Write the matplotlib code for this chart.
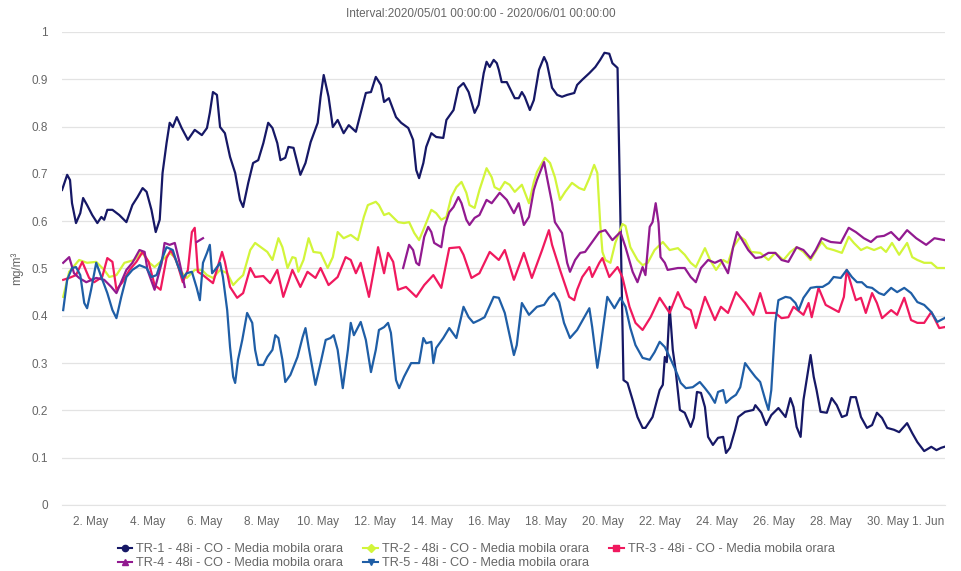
import numpy as np
import pandas as pd
import matplotlib
matplotlib.use("Agg")
import matplotlib.pyplot as plt
from matplotlib.lines import Line2D

plt.rcParams["font.family"] = ["Liberation Sans", "DejaVu Sans"]

START = pd.Timestamp("2020-05-01 00:00")
END = pd.Timestamp("2020-06-01 00:00")

# days since 1 May 00:00 / hourly moving average CO (mg/m3)
tr1_days = [0.00, 0.18, 0.28, 0.35, 0.49, 0.64, 0.74, 0.88, 1.06, 1.24, 1.38, 1.48, 1.59, 1.77,
            2.01, 2.26, 2.47, 2.65, 2.83, 2.97, 3.14, 3.29, 3.43, 3.53, 3.67, 3.78, 3.89, 4.03,
            4.20, 4.42, 4.66, 4.91, 5.09, 5.19, 5.30, 5.44, 5.55, 5.72, 5.90, 6.08, 6.25, 6.36,
            6.54, 6.71, 6.89, 7.07, 7.24, 7.39, 7.56, 7.67, 7.84, 7.95, 8.13, 8.37, 8.55, 8.73,
            8.98, 9.08, 9.19, 9.36, 9.51, 9.68, 9.89, 10.07, 10.14, 10.32, 10.49, 10.67, 10.85,
            11.02, 11.20, 11.31, 11.48, 11.73, 11.91, 12.16, 12.33, 12.44, 12.54, 12.69, 12.79,
            12.97, 13.14, 13.39, 13.50, 13.75, 13.92, 14.10, 14.28, 14.49, 14.63, 14.81, 14.91,
            15.02, 15.16, 15.27, 15.34, 15.44, 15.62, 15.72, 15.90, 16.04, 16.15, 16.25, 16.43,
            16.57, 16.75, 16.93, 17.03, 17.21, 17.39, 17.56, 17.74, 17.99, 18.09, 18.27, 18.52,
            18.73, 18.90, 19.05, 19.22, 19.33, 19.51, 19.72, 19.86, 20.04, 20.21, 20.39, 20.49,
            20.74, 20.99, 21.10, 21.17, 21.24, 21.34, 21.45, 21.55, 21.70, 21.87, 22.08, 22.19,
            22.30, 22.44, 22.58, 22.69, 22.86, 23.04, 23.22, 23.32, 23.46, 23.64, 23.75, 23.99,
            24.28, 24.35, 24.56, 24.73, 24.91, 25.16, 25.41, 25.58, 25.69, 25.80, 25.94, 26.04,
            26.15, 26.29, 26.40, 26.50, 26.64, 26.86, 27.03, 27.21, 27.39, 27.56, 27.70, 27.88,
            28.06, 28.27, 28.45, 28.62, 28.80, 28.98, 29.22, 29.40, 29.68, 29.86, 30.04, 30.28,
            30.53, 30.71, 30.88, 30.99]
tr1_vals = [0.666, 0.698, 0.687, 0.638, 0.596, 0.617, 0.649, 0.634, 0.613, 0.596, 0.609, 0.603,
            0.624, 0.624, 0.613, 0.598, 0.634, 0.651, 0.670, 0.662, 0.624, 0.577, 0.603, 0.702,
            0.765, 0.808, 0.799, 0.820, 0.797, 0.772, 0.793, 0.782, 0.797, 0.829, 0.873, 0.867,
            0.799, 0.786, 0.736, 0.702, 0.645, 0.630, 0.681, 0.723, 0.729, 0.765, 0.808, 0.797,
            0.765, 0.729, 0.734, 0.757, 0.755, 0.698, 0.723, 0.767, 0.808, 0.863, 0.909, 0.863,
            0.799, 0.814, 0.786, 0.803, 0.799, 0.789, 0.829, 0.871, 0.873, 0.905, 0.888, 0.852,
            0.860, 0.820, 0.808, 0.797, 0.772, 0.708, 0.691, 0.723, 0.757, 0.786, 0.778, 0.776,
            0.814, 0.835, 0.882, 0.892, 0.873, 0.829, 0.846, 0.913, 0.937, 0.926, 0.941, 0.934,
            0.920, 0.894, 0.894, 0.882, 0.860, 0.860, 0.873, 0.863, 0.835, 0.856, 0.920, 0.947,
            0.934, 0.882, 0.867, 0.863, 0.867, 0.871, 0.888, 0.899, 0.913, 0.926, 0.941, 0.956,
            0.954, 0.934, 0.924, 0.264, 0.258, 0.222, 0.186, 0.163, 0.163, 0.186, 0.243, 0.254,
            0.313, 0.302, 0.419, 0.328, 0.285, 0.201, 0.195, 0.165, 0.184, 0.239, 0.237, 0.207,
            0.144, 0.127, 0.142, 0.144, 0.110, 0.121, 0.159, 0.186, 0.197, 0.201, 0.211, 0.195,
            0.169, 0.190, 0.205, 0.186, 0.226, 0.207, 0.165, 0.144, 0.222, 0.264, 0.317, 0.271,
            0.243, 0.197, 0.195, 0.226, 0.211, 0.186, 0.190, 0.228, 0.228, 0.186, 0.163, 0.169,
            0.195, 0.184, 0.163, 0.159, 0.154, 0.173, 0.152, 0.133, 0.114, 0.123, 0.116, 0.121,
            0.123]

tr2_days = [0.04, 0.25, 0.60, 0.88, 1.20, 1.48, 1.66, 1.91, 2.19, 2.54, 2.79, 3.07, 3.25, 3.53,
            3.78, 3.96, 4.13, 4.38, 4.66, 4.91, 5.09, 5.30, 5.55, 5.80, 6.01, 6.18, 6.36, 6.61,
            6.78, 7.03, 7.21, 7.39, 7.60, 7.74, 7.92, 8.09, 8.20, 8.30, 8.48, 8.66, 8.83, 9.08,
            9.33, 9.51, 9.68, 9.89, 10.14, 10.39, 10.60, 10.74, 11.02, 11.13, 11.31, 11.48, 11.80,
            12.01, 12.19, 12.37, 12.54, 12.72, 12.97, 13.14, 13.32, 13.50, 13.67, 13.85, 14.03,
            14.20, 14.31, 14.49, 14.66, 14.91, 15.09, 15.19, 15.37, 15.55, 15.72, 15.90, 16.15,
            16.40, 16.57, 16.68, 16.96, 17.14, 17.31, 17.49, 17.67, 17.91, 18.16, 18.34, 18.52,
            18.69, 18.80, 18.90, 18.98, 19.08, 19.26, 19.43, 19.68, 19.79, 19.96, 20.21, 20.39,
            20.57, 20.81, 21.10, 21.34, 21.63, 21.87, 22.08, 22.26, 22.58, 22.76, 22.97, 23.22,
            23.39, 23.57, 23.82, 23.99, 24.20, 24.52, 24.81, 25.05, 25.34, 25.58, 25.80, 26.04,
            26.29, 26.50, 26.68, 26.86, 27.10, 27.39, 27.63, 27.81, 28.06, 28.27, 28.52, 28.76,
            28.94, 29.15, 29.40, 29.68, 29.86, 30.04, 30.28, 30.53, 30.74, 30.99]
tr2_vals = [0.440, 0.493, 0.518, 0.512, 0.514, 0.497, 0.482, 0.486, 0.512, 0.518, 0.535, 0.512,
            0.503, 0.518, 0.533, 0.524, 0.497, 0.480, 0.497, 0.497, 0.486, 0.480, 0.497, 0.490,
            0.465, 0.476, 0.486, 0.539, 0.554, 0.543, 0.535, 0.518, 0.564, 0.545, 0.501, 0.524,
            0.522, 0.493, 0.518, 0.564, 0.535, 0.533, 0.501, 0.524, 0.577, 0.564, 0.571, 0.560,
            0.609, 0.634, 0.641, 0.634, 0.613, 0.617, 0.598, 0.596, 0.598, 0.575, 0.560, 0.586,
            0.624, 0.617, 0.603, 0.609, 0.651, 0.672, 0.683, 0.660, 0.634, 0.628, 0.666, 0.712,
            0.693, 0.672, 0.666, 0.683, 0.677, 0.662, 0.677, 0.638, 0.683, 0.704, 0.734, 0.723,
            0.693, 0.645, 0.662, 0.681, 0.670, 0.666, 0.691, 0.719, 0.702, 0.596, 0.535, 0.518,
            0.512, 0.554, 0.594, 0.590, 0.545, 0.518, 0.507, 0.512, 0.539, 0.556, 0.539, 0.543,
            0.529, 0.512, 0.503, 0.543, 0.518, 0.497, 0.518, 0.512, 0.545, 0.567, 0.560, 0.535,
            0.533, 0.518, 0.533, 0.518, 0.535, 0.545, 0.535, 0.518, 0.539, 0.556, 0.543, 0.539,
            0.533, 0.567, 0.554, 0.539, 0.545, 0.539, 0.545, 0.535, 0.554, 0.529, 0.554, 0.524,
            0.518, 0.512, 0.512, 0.501, 0.501]

tr3_days = [0.04, 0.25, 0.49, 0.71, 0.95, 1.13, 1.41, 1.59, 1.77, 1.91, 2.12, 2.37, 2.61, 2.83,
            3.04, 3.25, 3.46, 3.67, 3.82, 4.03, 4.24, 4.42, 4.56, 4.66, 4.77, 4.95, 5.30, 5.62,
            5.72, 5.90, 6.15, 6.36, 6.61, 6.78, 7.07, 7.31, 7.56, 7.77, 8.09, 8.37, 8.62, 8.90,
            9.08, 9.36, 9.68, 9.96, 10.14, 10.32, 10.49, 10.78, 11.10, 11.31, 11.45, 11.63, 11.80,
            12.08, 12.44, 12.72, 13.04, 13.32, 13.60, 13.96, 14.10, 14.38, 14.66, 15.02, 15.34,
            15.55, 15.87, 16.22, 16.50, 16.86, 17.10, 17.21, 17.49, 17.81, 17.99, 18.09, 18.27,
            18.52, 18.62, 18.87, 18.98, 19.22, 19.51, 19.68, 19.93, 20.14, 20.39, 20.67, 20.99,
            21.34, 21.63, 21.87, 22.08, 22.26, 22.58, 22.93, 23.14, 23.39, 23.67, 23.99, 24.28,
            24.52, 24.73, 25.05, 25.27, 25.51, 25.69, 26.04, 26.22, 26.33, 26.57, 26.82, 27.28,
            27.46, 27.56, 27.70, 27.88, 28.06, 28.23, 28.45, 28.62, 28.80, 29.12, 29.33, 29.58,
            29.82, 30.04, 30.28, 30.53, 30.81, 30.99]
tr3_vals = [0.476, 0.480, 0.486, 0.514, 0.480, 0.471, 0.482, 0.522, 0.514, 0.455, 0.471, 0.497,
            0.514, 0.535, 0.514, 0.465, 0.455, 0.522, 0.539, 0.514, 0.471, 0.497, 0.577, 0.586,
            0.493, 0.486, 0.469, 0.535, 0.514, 0.461, 0.438, 0.448, 0.501, 0.482, 0.484, 0.469,
            0.497, 0.440, 0.497, 0.461, 0.493, 0.480, 0.501, 0.465, 0.482, 0.524, 0.518, 0.490,
            0.512, 0.440, 0.545, 0.490, 0.533, 0.514, 0.455, 0.461, 0.440, 0.465, 0.486, 0.459,
            0.543, 0.545, 0.529, 0.480, 0.490, 0.535, 0.518, 0.539, 0.476, 0.533, 0.480, 0.539,
            0.581, 0.550, 0.497, 0.440, 0.433, 0.455, 0.482, 0.503, 0.482, 0.512, 0.522, 0.482,
            0.503, 0.482, 0.419, 0.385, 0.370, 0.397, 0.438, 0.406, 0.450, 0.419, 0.412, 0.374,
            0.440, 0.391, 0.419, 0.406, 0.450, 0.427, 0.402, 0.448, 0.406, 0.406, 0.395, 0.397,
            0.419, 0.402, 0.427, 0.397, 0.459, 0.423, 0.408, 0.440, 0.497, 0.469, 0.433, 0.438,
            0.406, 0.448, 0.427, 0.395, 0.412, 0.402, 0.438, 0.391, 0.385, 0.385, 0.408, 0.374,
            0.376]

# TR-4 has missing data (gaps) around 4-5 May and 5-12 May
tr4_days = [0.04, 0.25, 0.42, 0.60, 0.85, 1.20, 1.48, 1.73, 1.91, 2.26, 2.47, 2.72, 2.90, 3.00,
            3.25, 3.50, 3.60, 3.78, 3.96, 4.13, 4.31, 4.50, 4.73, 4.95, 5.00, 11.98, 12.19, 12.33,
            12.44, 12.54, 12.72, 12.86, 12.97, 13.07, 13.32, 13.43, 13.60, 13.75, 13.92, 14.03,
            14.20, 14.31, 14.49, 14.66, 14.91, 15.09, 15.37, 15.62, 15.87, 16.04, 16.22, 16.40,
            16.57, 16.68, 16.93, 17.03, 17.21, 17.31, 17.56, 17.74, 17.84, 18.02, 18.20, 18.37,
            18.62, 18.87, 19.08, 19.33, 19.61, 19.79, 20.04, 20.21, 20.39, 20.49, 20.64, 20.74,
            20.85, 20.95, 21.02, 21.17, 21.27, 21.63, 21.87, 22.08, 22.26, 22.44, 22.69, 22.93,
            23.14, 23.39, 23.57, 23.71, 23.85, 24.10, 24.35, 24.56, 24.81, 25.05, 25.27, 25.51,
            25.80, 26.04, 26.29, 26.47, 26.68, 27.00, 27.35, 27.63, 27.88, 28.16, 28.41, 28.62,
            28.87, 29.12, 29.40, 29.68, 30.00, 30.35, 30.64, 30.99]
tr4_vals = [0.512, 0.524, 0.490, 0.480, 0.471, 0.480, 0.476, 0.461, 0.448, 0.497, 0.512, 0.539,
            0.535, 0.497, 0.455, 0.512, 0.554, 0.550, 0.554, 0.512, 0.461, np.nan, 0.556, 0.564,
            np.nan, 0.501, 0.550, 0.539, 0.512, 0.507, 0.567, 0.588, 0.577, 0.554, 0.545, 0.588,
            0.619, 0.630, 0.651, 0.638, 0.603, 0.592, 0.607, 0.613, 0.645, 0.638, 0.660, 0.645,
            0.617, 0.638, 0.592, 0.609, 0.666, 0.687, 0.725, 0.693, 0.638, 0.598, 0.575, 0.512,
            0.493, 0.518, 0.533, 0.535, 0.556, 0.577, 0.581, 0.560, 0.577, 0.545, 0.493, 0.471,
            0.503, 0.486, 0.588, 0.598, 0.638, 0.596, 0.524, 0.512, 0.497, 0.501, 0.501, 0.482,
            0.471, 0.501, 0.518, 0.512, 0.518, 0.490, 0.545, 0.577, 0.564, 0.539, 0.522, 0.524,
            0.533, 0.533, 0.518, 0.514, 0.545, 0.539, 0.522, 0.539, 0.564, 0.556, 0.554, 0.586,
            0.577, 0.564, 0.556, 0.567, 0.569, 0.577, 0.560, 0.581, 0.564, 0.550, 0.564, 0.560]

tr5_days = [0.04, 0.18, 0.35, 0.49, 0.64, 0.78, 0.88, 1.02, 1.20, 1.38, 1.59, 1.77, 1.91, 2.08,
            2.26, 2.47, 2.72, 2.97, 3.14, 3.32, 3.50, 3.67, 3.89, 4.03, 4.24, 4.38, 4.56, 4.73,
            4.84, 4.95, 5.09, 5.19, 5.27, 5.37, 5.55, 5.65, 5.80, 5.90, 6.01, 6.08, 6.18, 6.33,
            6.50, 6.68, 6.78, 6.89, 7.07, 7.21, 7.39, 7.49, 7.60, 7.74, 7.84, 8.02, 8.27, 8.45,
            8.55, 8.66, 8.90, 9.08, 9.26, 9.43, 9.54, 9.68, 9.86, 10.04, 10.14, 10.25, 10.49,
            10.67, 10.85, 11.02, 11.13, 11.31, 11.45, 11.55, 11.73, 11.84, 12.01, 12.26, 12.54,
            12.69, 12.79, 12.97, 13.04, 13.14, 13.39, 13.60, 13.85, 14.10, 14.28, 14.45, 14.66,
            14.84, 15.16, 15.34, 15.55, 15.72, 15.87, 15.97, 16.15, 16.40, 16.68, 16.93, 17.10,
            17.28, 17.46, 17.63, 17.84, 18.09, 18.34, 18.52, 18.62, 18.80, 18.90, 19.15, 19.40,
            19.61, 19.79, 19.96, 20.14, 20.39, 20.64, 20.81, 20.99, 21.17, 21.34, 21.55, 21.73,
            21.91, 22.15, 22.40, 22.58, 22.76, 22.93, 23.04, 23.22, 23.32, 23.50, 23.67, 23.82,
            23.99, 24.17, 24.35, 24.52, 24.70, 24.81, 24.91, 25.05, 25.16, 25.41, 25.58, 25.76,
            25.87, 26.04, 26.29, 26.50, 26.71, 26.93, 27.10, 27.35, 27.56, 27.74, 27.92, 28.09,
            28.27, 28.45, 28.69, 28.87, 29.12, 29.33, 29.58, 29.82, 30.04, 30.28, 30.53, 30.74,
            30.99]
tr5_vals = [0.412, 0.476, 0.501, 0.503, 0.486, 0.427, 0.416, 0.455, 0.512, 0.482, 0.448, 0.412,
            0.395, 0.440, 0.482, 0.497, 0.507, 0.501, 0.482, 0.486, 0.518, 0.545, 0.539, 0.512,
            0.480, 0.490, 0.493, 0.459, 0.433, 0.512, 0.533, 0.550, 0.490, 0.497, 0.512, 0.482,
            0.412, 0.334, 0.271, 0.258, 0.307, 0.349, 0.406, 0.385, 0.328, 0.296, 0.296, 0.313,
            0.328, 0.359, 0.353, 0.307, 0.260, 0.275, 0.313, 0.355, 0.374, 0.334, 0.254, 0.300,
            0.349, 0.353, 0.359, 0.328, 0.247, 0.328, 0.385, 0.359, 0.387, 0.349, 0.281, 0.328,
            0.370, 0.376, 0.385, 0.364, 0.264, 0.247, 0.271, 0.300, 0.300, 0.353, 0.342, 0.345,
            0.300, 0.332, 0.353, 0.374, 0.353, 0.419, 0.397, 0.385, 0.391, 0.397, 0.440, 0.438,
            0.406, 0.359, 0.317, 0.338, 0.427, 0.402, 0.419, 0.423, 0.438, 0.448, 0.429, 0.385,
            0.353, 0.370, 0.397, 0.416, 0.376, 0.290, 0.328, 0.440, 0.416, 0.438, 0.419, 0.374,
            0.338, 0.311, 0.307, 0.323, 0.345, 0.334, 0.313, 0.285, 0.258, 0.247, 0.249, 0.260,
            0.247, 0.233, 0.216, 0.239, 0.243, 0.216, 0.226, 0.233, 0.249, 0.300, 0.285, 0.271,
            0.260, 0.222, 0.201, 0.243, 0.385, 0.433, 0.440, 0.438, 0.427, 0.412, 0.438, 0.459,
            0.461, 0.461, 0.469, 0.482, 0.480, 0.497, 0.482, 0.471, 0.471, 0.461, 0.459, 0.448,
            0.444, 0.459, 0.450, 0.459, 0.448, 0.429, 0.423, 0.408, 0.387, 0.395]

series_names = ["TR-1 - 48i - CO - Media mobila orara",
                "TR-2 - 48i - CO - Media mobila orara",
                "TR-3 - 48i - CO - Media mobila orara",
                "TR-4 - 48i - CO - Media mobila orara",
                "TR-5 - 48i - CO - Media mobila orara"]
series_days = [tr1_days, tr2_days, tr3_days, tr4_days, tr5_days]
series_vals = [tr1_vals, tr2_vals, tr3_vals, tr4_vals, tr5_vals]
colors = ["#161866", "#d2f53a", "#f0195e", "#921a90", "#1f5ea6"]
markers = ["o", "D", "s", "^", "v"]

y_ticks = [0, 0.1, 0.2, 0.3, 0.4, 0.5, 0.6, 0.7, 0.8, 0.9, 1]
y_tick_labels = ["0", "0.1", "0.2", "0.3", "0.4", "0.5", "0.6", "0.7", "0.8", "0.9", "1"]

fig = plt.figure(figsize=(9.62, 5.71), dpi=100)
ax = fig.add_axes([0.0645, 0.1156, 0.9175, 0.8284])

for days, vals, c in zip(series_days, series_vals, colors):
    t = START + pd.to_timedelta(np.array(days), unit="D")
    ax.plot(t, vals, color=c, lw=1.6, solid_joinstyle="round")

ax.set_xlim(START, END)
ax.set_ylim(0, 1)
ax.set_yticks(y_ticks)
ax.set_yticklabels(y_tick_labels)
ax.grid(axis="y", color="#e3e3e3", lw=0.9)
ax.set_axisbelow(True)
for s in ["top", "right", "left"]:
    ax.spines[s].set_visible(False)
ax.spines["bottom"].set_color("#e3e3e3")
ax.tick_params(axis="both", length=0, colors="#666666", labelsize=8.5)
ax.tick_params(axis="y", pad=10)
ax.tick_params(axis="x", pad=8)

tick_dates = list(pd.date_range("2020-05-02", "2020-05-30", freq="2D")) + [END]
ax.set_xticks(tick_dates)
ax.set_xticklabels([f"{d.day}. {d.strftime('%b')}" for d in tick_dates])
ax.get_xticklabels()[-1].set_ha("right")

ax.set_ylabel("mg/m³", color="#666666", fontsize=8.5, labelpad=6)
fig.text(0.5, 0.976, "Interval:2020/05/01 00:00:00 - 2020/06/01 00:00:00",
         ha="center", va="center", color="#666666", fontsize=8.5)

handles = [Line2D([], [], color=c, marker=m, lw=1.5, markersize=4.5)
           for c, m in zip(colors, markers)]
order = [0, 3, 1, 4, 2]
fig.legend([handles[i] for i in order], [series_names[i] for i in order],
           loc="center", bbox_to_anchor=(0.495, 0.026), ncol=3, frameon=False,
           fontsize=9.2, handlelength=1.1, handletextpad=0.35, columnspacing=1.6,
           labelspacing=0.15, labelcolor="#666666")

fig.savefig("out.png", dpi=100)
